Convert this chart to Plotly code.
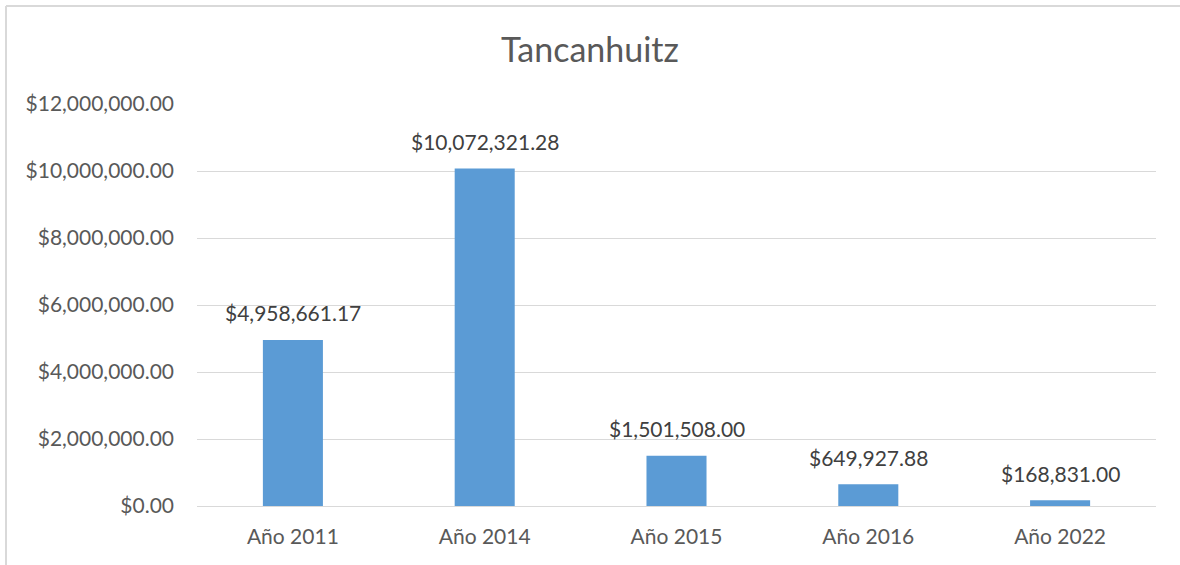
import plotly.graph_objects as go

categories = ["Año 2011", "Año 2014", "Año 2015", "Año 2016", "Año 2022"]
values = [4958661.17, 10072321.28, 1501508.00, 649927.88, 168831.00]
tick_values = [0, 2000000, 4000000, 6000000, 8000000, 10000000, 12000000]
tick_labels = ["$0.00", "$2,000,000.00", "$4,000,000.00", "$6,000,000.00",
               "$8,000,000.00", "$10,000,000.00", "$12,000,000.00"]
title_text = "Tancanhuitz"

labels = ["${:,.2f}".format(v) for v in values]

FONT = "Lato, 'Open Sans', sans-serif"
TXT = "#595959"

fig = go.Figure(go.Bar(
    x=categories, y=values,
    marker=dict(color="#5B9BD5", line=dict(width=0)),
    cliponaxis=False, hoverinfo="skip",
))

for c, v, t in zip(categories, values, labels):
    fig.add_annotation(x=c, y=v, xref="x", yref="y", text=t, showarrow=False,
                       yanchor="middle", yshift=27,
                       font=dict(size=21, color="#404040", family=FONT))

L, R, T, B = 197, 24, 104, 59
W, H = 1180, 565
pw, ph = W - L - R, H - T - B

def px_x(p):
    return (p - L) / pw

def px_y(p):
    return (H - B - p) / ph

fig.update_layout(
    width=W, height=H,
    margin=dict(l=L, r=R, t=T, b=B, pad=0),
    paper_bgcolor="white", plot_bgcolor="white",
    bargap=0.687,
    showlegend=False,
    title=dict(text=title_text, x=0.5, xref="container", xanchor="center",
               y=1 - 50 / H, yref="container", yanchor="middle",
               font=dict(size=34, color=TXT, family=FONT)),
    font=dict(family=FONT, color=TXT),
    xaxis=dict(showgrid=False, showline=True, linecolor="#D9D9D9", linewidth=1,
               ticks="", tickfont=dict(size=21, color=TXT, family=FONT),
               ticklabelstandoff=12, fixedrange=True),
    yaxis=dict(range=[0, 12000000], tickvals=tick_values, ticktext=tick_labels,
               showgrid=True, gridcolor="#D9D9D9", gridwidth=1,
               zeroline=False, showline=False, ticks="",
               tickfont=dict(size=21, color=TXT, family=FONT),
               ticklabelstandoff=22, fixedrange=True),
    shapes=[
        dict(type="line", xref="paper", yref="paper",
             x0=px_x(6), x1=px_x(6), y0=px_y(565), y1=px_y(6),
             line=dict(color="#D9D9D9", width=2)),
        dict(type="line", xref="paper", yref="paper",
             x0=px_x(6), x1=px_x(1180), y0=px_y(6), y1=px_y(6),
             line=dict(color="#D9D9D9", width=2)),
    ],
)

fig.write_html("out.html", config={"displayModeBar": False},
               post_script="document.body.style.margin='0';")
